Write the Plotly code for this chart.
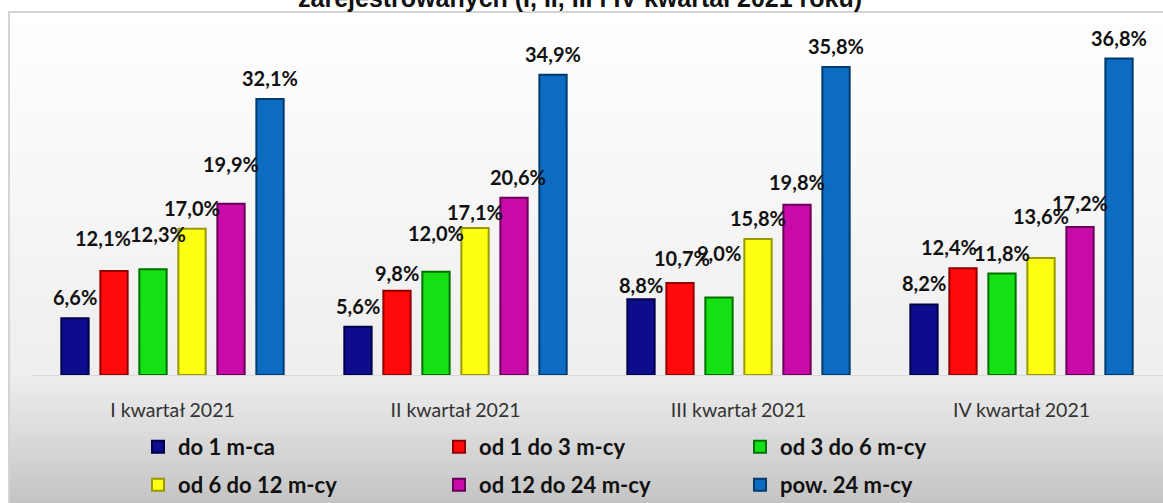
import plotly.graph_objects as go

# ---------------- data ----------------
categories = ["I kwartał 2021", "II kwartał 2021", "III kwartał 2021", "IV kwartał 2021"]
series_names = ["do 1 m-ca", "od 1 do 3 m-cy", "od 3 do 6 m-cy",
                "od 6 do 12 m-cy", "od 12 do 24 m-cy", "pow. 24 m-cy"]
do_1_mca = [6.6, 5.6, 8.8, 8.2]
od_1_do_3 = [12.1, 9.8, 10.7, 12.4]
od_3_do_6 = [12.3, 12.0, 9.0, 11.8]
od_6_do_12 = [17.0, 17.1, 15.8, 13.6]
od_12_do_24 = [19.9, 20.6, 19.8, 17.2]
pow_24 = [32.1, 34.9, 35.8, 36.8]
series_values = [do_1_mca, od_1_do_3, od_3_do_6, od_6_do_12, od_12_do_24, pow_24]
title_text = "zarejestrowanych (I, II, III i IV kwartał 2021 roku)"

# ---------------- style ----------------
W, H = 1163, 503
M_L, M_R, M_T, M_B = 31, 0, 31, 128
PW, PH = W - M_L - M_R, H - M_T - M_B
fills = ["#0c0c8c", "#ff0a0a", "#14e014", "#ffff14", "#c80aa8", "#0b6cc2"]
edges = ["#00004a", "#900000", "#007000", "#9a9a00", "#6a0058", "#033a6e"]
BARGAP = 0.173
BARGROUPGAP = 0.3
LABEL_FONT = dict(family="Lato", size=20, color="#111111")
# extra label nudges (px) per series / per quarter, as placed in the original
label_nudge = [
    [(0, 0), (0, 0), (0, -7), (0, 0)],
    [(-11, 12), (0, -3), (2, 4), (-14, 0)],
    [(5, 14), (0, 18), (0, 24), (0, 0)],
    [(0, 0), (0, -5), (0, 0), (0, 21)],
    [(0, 19), (4, 0), (0, 2), (0, 3)],
    [(0, 0), (0, 0), (0, 0), (0, 0)],
]


def px_x(px):
    return (px - M_L) / PW


def px_y(py):
    return (H - M_B - py) / PH


def mix(c1, c2, t):
    return "rgb({},{},{})".format(*[round(a + (b - a) * t) for a, b in zip(c1, c2)])


fig = go.Figure()
for j, (name, vals) in enumerate(zip(series_names, series_values)):
    fig.add_trace(go.Bar(
        name=name, x=categories, y=vals,
        marker=dict(color=fills[j], line=dict(color=edges[j], width=2)),
        legend="legend" if j < 3 else "legend2",
        hoverinfo="skip",
    ))

# data labels
annotations = []
slot = (1 - BARGAP) / len(series_names)
for j, vals in enumerate(series_values):
    for i, v in enumerate(vals):
        dx, dy = label_nudge[j][i]
        annotations.append(dict(
            x=i + (j - (len(series_names) - 1) / 2) * slot, y=v,
            xref="x", yref="y", showarrow=False,
            text=f"<b>{v:.1f}%</b>".replace(".", ","),
            font=LABEL_FONT, yanchor="middle", xanchor="center",
            yshift=21 + dy, xshift=dx,
        ))

# clipped title line at the very top (only its lower part shows in the original)
annotations.append(dict(
    x=px_x(W / 2 - 2), y=px_y(-2), xref="paper", yref="paper",
    showarrow=False, text=f"<b>{title_text}</b>",
    font=dict(family="Liberation Sans", size=25, color="#111111"),
    xanchor="center", yanchor="middle",
))

# background gradient (chart area) + border
shapes = []
top_c, mid_c, bot_c = (255, 255, 255), (238, 238, 238), (196, 196, 196)
y0 = 12
step = 4
y = y0
while y < H:
    y1 = min(y + step, H + 2)
    yc = (y + y1) / 2
    if yc <= 375:
        col = mix(top_c, mid_c, (yc - y0) / (375 - y0))
    else:
        col = mix(mid_c, bot_c, (yc - 375) / (H - 375))
    shapes.append(dict(type="rect", xref="paper", yref="paper",
                       x0=px_x(9), x1=px_x(W + 5), y0=px_y(y1 + 0.5), y1=px_y(y),
                       fillcolor=col, line=dict(width=0), layer="below"))
    y = y1
shapes.append(dict(type="rect", xref="paper", yref="paper",
                   x0=px_x(9), x1=px_x(W + 10), y0=px_y(H + 10), y1=px_y(12),
                   fillcolor="rgba(0,0,0,0)", line=dict(color="#d4d4d4", width=2),
                   layer="below"))

legend_common = dict(
    orientation="h", bgcolor="rgba(0,0,0,0)", borderwidth=0,
    font=dict(family="Lato", size=22, color="#111111", weight="bold"),
    entrywidth=256, entrywidthmode="pixels",
    xanchor="left", yanchor="middle", itemclick=False, itemdoubleclick=False,
)

fig.update_layout(
    width=W, height=H,
    margin=dict(l=M_L, r=M_R, t=M_T, b=M_B, autoexpand=False),
    paper_bgcolor="white", plot_bgcolor="rgba(0,0,0,0)",
    barmode="group", bargap=BARGAP, bargroupgap=BARGROUPGAP,
    showlegend=True,
    legend=dict(**legend_common, x=px_x(138), y=px_y(447)),
    legend2=dict(**legend_common, x=px_x(138), y=px_y(485)),
    xaxis=dict(showline=True, linecolor="#d9d9d9", linewidth=1,
               showgrid=False, ticks="", ticklabelstandoff=18,
               tickfont=dict(family="Lato", size=19.5, color="#333333"),
               fixedrange=True),
    yaxis=dict(range=[0, 40], visible=False, showgrid=False, fixedrange=True),
    annotations=annotations,
    shapes=shapes,
    font=dict(family="Lato"),
)

fig.write_html(
    "out.html",
    config={"displayModeBar": False, "staticPlot": False},
    post_script="document.body.style.margin='0';document.body.style.overflow='hidden';",
)
